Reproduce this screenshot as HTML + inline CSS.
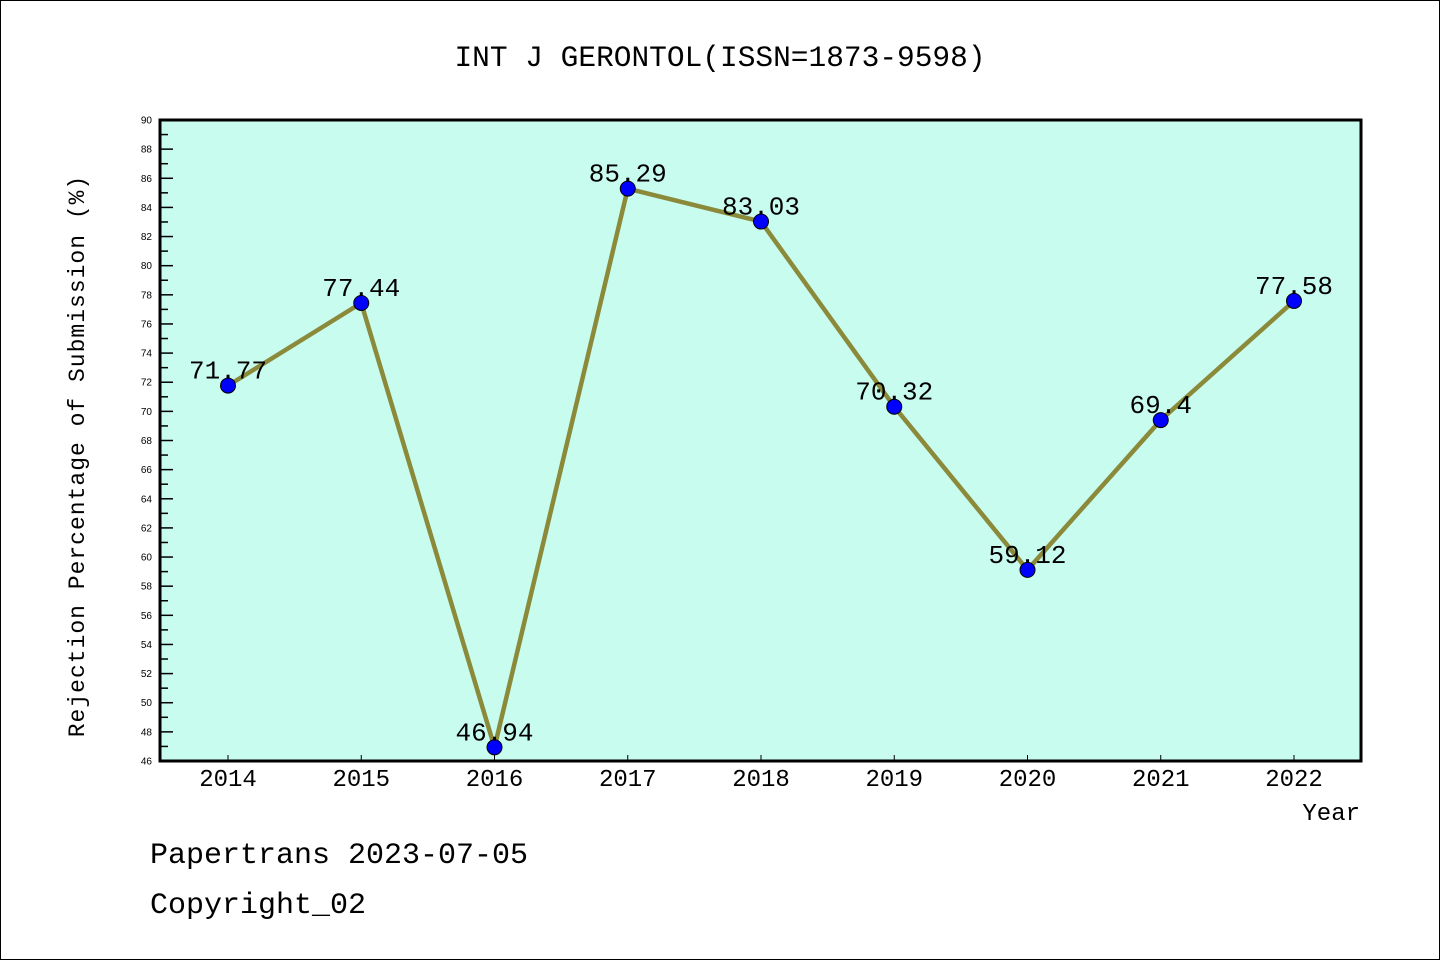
<!DOCTYPE html>
<html><head><meta charset="utf-8"><style>
body{margin:0;background:#fff}
svg{display:block;font-family:"Liberation Mono","DejaVu Sans Mono",monospace}
</style></head><body>
<svg id="chart" width="1440" height="960" xmlns="http://www.w3.org/2000/svg">
<rect x="0.5" y="0.5" width="1439" height="959" fill="#fff" stroke="#000"/>
<text x="720" y="66" text-anchor="middle" font-size="29.5">INT J GERONTOL(ISSN=1873-9598)</text>
<rect x="160" y="120" width="1201" height="641" fill="#c8fcee"/>
<g id="yticks"></g><g id="xticks"></g>
<g id="series"></g>
<rect x="160" y="120" width="1201" height="641" fill="none" stroke="#000" stroke-width="3"/>
<text transform="translate(84,456) rotate(-90)" text-anchor="middle" font-size="23" letter-spacing="1">Rejection Percentage of Submission (%)</text>
<text x="1360" y="820" text-anchor="end" font-size="24">Year</text>
<text x="150" y="863" font-size="30">Papertrans 2023-07-05</text>
<text x="150" y="913" font-size="30">Copyright_02</text>
</svg>
<script>
const years=["2014","2015","2016","2017","2018","2019","2020","2021","2022"];
const values=[71.77,77.44,46.94,85.29,83.03,70.32,59.12,69.4,77.58];
const valueLabels=["71.77","77.44","46.94","85.29","83.03","70.32","59.12","69.4","77.58"];
const yMin=46,yMax=90;
const NS="http://www.w3.org/2000/svg";
function y(v){return 761-(v-yMin)/(yMax-yMin)*641;}
function x(i){return 228+i*(1294-228)/(years.length-1);}
function mk(t,a,p){const e=document.createElementNS(NS,t);for(const k in a)e.setAttribute(k,a[k]);p.appendChild(e);return e;}
const yt=document.getElementById('yticks');
for(let v=yMin;v<=yMax;v++){
  const major=(v%2===0);
  const l=mk('line',{x1:160,x2:major?173:168,y1:y(v),y2:y(v),stroke:'#000','stroke-width':1.5},yt);
  
  
  if(major){const t=mk('text',{x:152,y:y(v)+3.5,'text-anchor':'end','font-size':10,'font-family':'Liberation Sans, sans-serif'},yt);t.textContent=v;
  
  }
}
const xt=document.getElementById('xticks');
years.forEach((yr,i)=>{
  const l=mk('line',{x1:x(i),x2:x(i),y1:761,y2:755,stroke:'#000','stroke-width':1},xt);
  
  
  const t=mk('text',{x:x(i),y:786,'text-anchor':'middle','font-size':24},xt);t.textContent=yr;
  
  
});
const s=document.getElementById('series');
const pl=mk('polyline',{points:values.map((v,i)=>x(i)+','+y(v)).join(' '),fill:'none',stroke:'#8b8a3a','stroke-width':4.5,'stroke-linejoin':'round'},s);


values.forEach((v,i)=>{
  const c=mk('circle',{cx:x(i),cy:y(v),r:7.5,fill:'#0000ff',stroke:'#000','stroke-width':1},s);
  
  
  const t=mk('text',{x:x(i),y:y(v)-7,'text-anchor':'middle','font-size':26},s);t.textContent=valueLabels[i];
  
  
});
</script>
</body></html>
